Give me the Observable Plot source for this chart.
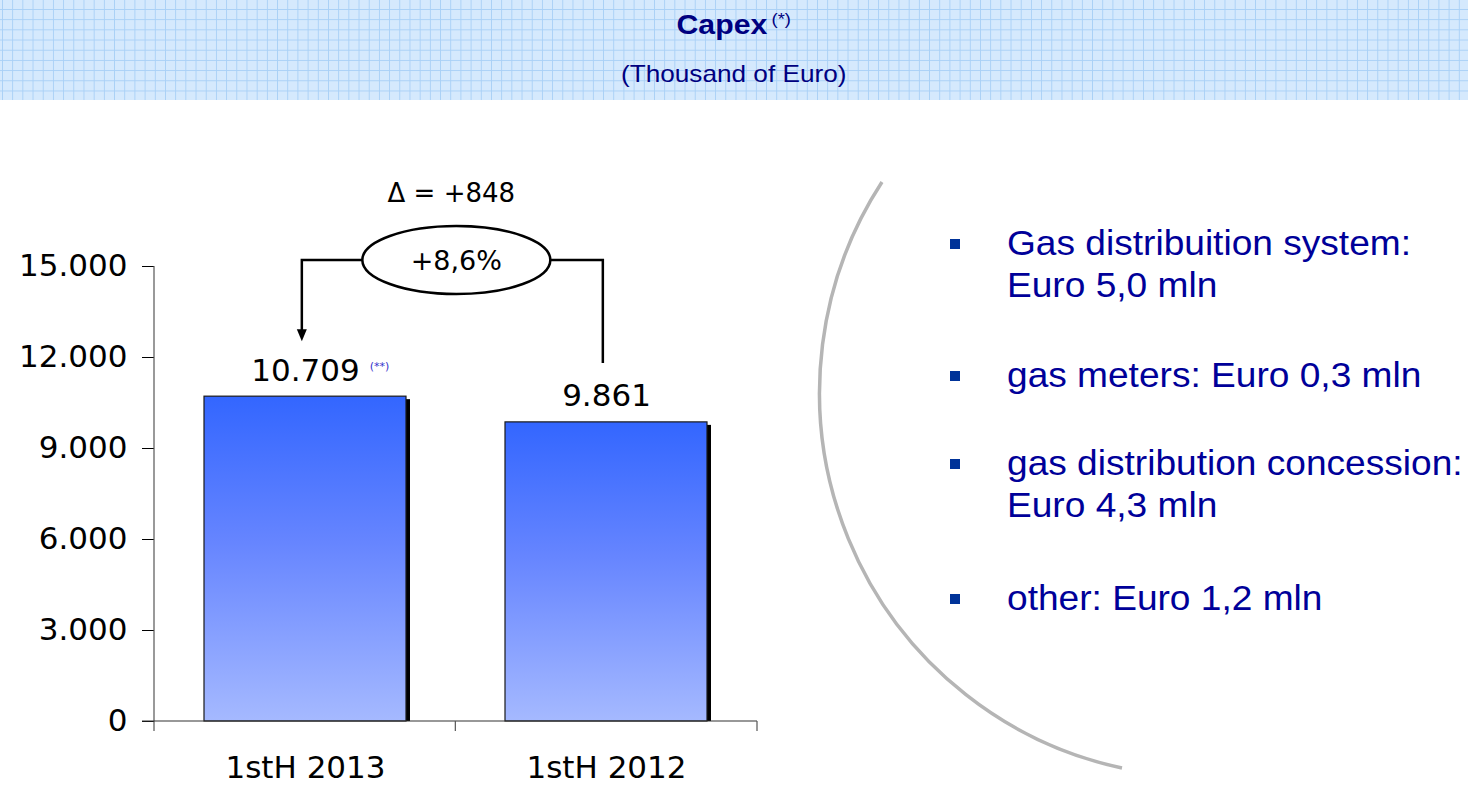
<!DOCTYPE html>
<html>
<head>
<meta charset="utf-8">
<script src="https://cdn.jsdelivr.net/npm/d3@7"></script>
<script src="https://cdn.jsdelivr.net/npm/@observablehq/plot@0.6"></script>
<style>
  html, body { margin: 0; padding: 0; background: #fff; }
  #page { position: relative; width: 1468px; height: 788px; overflow: hidden; background: #fff; }
  #header {
    position: absolute; left: 0; top: 0; width: 1468px; height: 100px;
    background-color: #d5e9fd;
    background-image: linear-gradient(to right, #a9d0f6 1px, transparent 1px),
                      linear-gradient(to bottom, #a9d0f6 1px, transparent 1px);
    background-size: 10.2px 10.2px;
    background-position: 2px 9px;
  }
  .htext { position: absolute; left: 0; width: 1468px; text-align: center; font-family: "Liberation Sans", Arial, sans-serif; color: #000080; white-space: nowrap; }
  #title { top: 9px; font-size: 28px; font-weight: bold; transform: scaleX(1.08); transform-origin: 737px 0; }
  #title sup { font-weight: normal; font-size: 17px; vertical-align: 0; position: relative; top: -9px; margin-left: 4px; }
  #subtitle { top: 60px; font-size: 24px; transform: scaleX(1.09); transform-origin: 737px 0; }
  #chart { position: absolute; left: 0; top: 100px; }
  #arc { position: absolute; left: 0; top: 0; pointer-events: none; }
  .bullet { position: absolute; left: 1007px; font-family: "Liberation Sans", Arial, sans-serif; font-size: 34.5px; line-height: 42px; color: #000099; white-space: nowrap; transform: scaleX(1.075); transform-origin: 0 0; }
  .sq { position: absolute; left: 950px; width: 10px; height: 10px; background: #003399; }
</style>
</head>
<body>
<svg width="0" height="0" style="position:absolute">
  <defs>
    <linearGradient id="barGrad" x1="0" y1="0" x2="0" y2="1">
      <stop offset="0" stop-color="#3366ff"/>
      <stop offset="0.45" stop-color="#6685ff"/>
      <stop offset="1" stop-color="#a5b9ff"/>
    </linearGradient>
  </defs>
</svg>
<div id="page">
  <div id="header">
    <div id="title" class="htext">Capex<sup>(*)</sup></div>
    <div id="subtitle" class="htext">(Thousand of Euro)</div>
  </div>
  <div id="chart"></div>
  <svg id="arc" width="1468" height="788">
    <path d="M 882 182 A 382 384 0 0 0 1122 768" fill="none" stroke="#b5b5b5" stroke-width="3.5"/>
  </svg>
  <div id="bullets"></div>
</div>
<script>
// ---- data ----
const categories = ["1stH 2013", "1stH 2012"];
const values = [10709, 9861];
const valueNotes = ["(**)", ""];
const yTicks = [0, 3000, 6000, 9000, 12000, 15000];
const yTickLabels = ["0", "3.000", "6.000", "9.000", "12.000", "15.000"];
const bulletLines = [
  ["Gas distribuition system:", "Euro 5,0 mln"],
  ["gas meters: Euro 0,3 mln"],
  ["gas distribution concession:", "Euro 4,3 mln"],
  ["other: Euro 1,2 mln"]
];

const fmtThousands = v => d3.format(",")(v).replace(/,/g, ".");
const data = categories.map((c, i) => ({cat: c, value: values[i], label: fmtThousands(values[i]), note: valueNotes[i]}));

const delta = values[0] - values[1];
const pct = delta / values[1] * 100;
const deltaText = "\u0394 = " + (delta >= 0 ? "+" : "") + delta;
const pctText = (pct >= 0 ? "+" : "") + d3.format(".1f")(pct).replace(".", ",") + "%";

const padInner = 0.33, padOuter = 0.165;

function decorations(...args) {
  const dims = args.find(a => a && typeof a === "object" && "marginLeft" in a);
  const scales = args.find(a => a && typeof a === "object" && typeof a.y === "function" && typeof a.x === "function");
  const x = scales.x, y = scales.y;
  const xa = x(categories[0]), xb = x(categories[1]);
  const step = xb - xa;
  const bw = step * (1 - padInner);
  const c0 = xa + bw / 2, c1 = xb + bw / 2;
  const left = dims.marginLeft, right = dims.width - dims.marginRight;
  const bottom = y(0), top = y(yTicks[yTicks.length - 1]);
  const g = d3.create("svg:g");
  // axis lines
  g.append("line").attr("x1", left).attr("x2", left).attr("y1", top).attr("y2", bottom + 10)
    .attr("stroke", "#555").attr("stroke-width", 1.2);
  g.append("line").attr("x1", left - 12).attr("x2", right).attr("y1", bottom).attr("y2", bottom)
    .attr("stroke", "#333").attr("stroke-width", 1.2);
  [(c0 + c1) / 2, right].forEach(px => {
    g.append("line").attr("x1", px).attr("x2", px).attr("y1", bottom).attr("y2", bottom + 10)
      .attr("stroke", "#555").attr("stroke-width", 1.2);
  });
  // annotation
  const cx = (c0 + c1) / 2 + 1, cy = top - 6, rx = 94, ry = 34;
  const ax = c0 - 3, bx = c1 - 3;
  const tipA = y(values[0]) - 55, endB = y(values[1]) - 59;
  g.append("path").attr("d", `M${cx - rx},${cy}H${ax}V${tipA - 11}`)
    .attr("fill", "none").attr("stroke", "#000").attr("stroke-width", 2.5);
  g.append("path").attr("d", `M${ax - 5},${tipA - 12}L${ax + 5},${tipA - 12}L${ax},${tipA}Z`).attr("fill", "#000");
  g.append("path").attr("d", `M${cx + rx},${cy}H${bx}V${endB}`)
    .attr("fill", "none").attr("stroke", "#000").attr("stroke-width", 2.5);
  g.append("ellipse").attr("cx", cx).attr("cy", cy).attr("rx", rx).attr("ry", ry)
    .attr("fill", "#fff").attr("stroke", "#000").attr("stroke-width", 2.5);
  g.append("text").attr("x", cx).attr("y", cy).attr("dy", "0.36em").attr("text-anchor", "middle")
    .attr("font-size", 27).attr("fill", "#000").text(pctText);
  g.append("text").attr("x", cx - 5).attr("y", cy - 67).attr("dy", "0.36em").attr("text-anchor", "middle")
    .attr("font-size", 26).attr("fill", "#000").text(deltaText);
  return g.node();
}

const plot = Plot.plot({
  width: 1468,
  height: 688,
  marginLeft: 154,
  marginRight: 711,
  marginTop: 166,
  marginBottom: 67,
  style: {fontFamily: "'DejaVu Sans', Verdana, sans-serif", fontSize: "31px", color: "#000", background: "transparent", overflow: "visible"},
  x: {domain: categories, paddingInner: padInner, paddingOuter: padOuter, tickSize: 0, tickPadding: 34, label: null},
  y: {domain: [0, 15000], ticks: yTicks, tickFormat: d => yTickLabels[yTicks.indexOf(d)], tickSize: 12, tickPadding: 15, label: null},
  marks: [
    Plot.barY(data, {x: "cat", y: "value", fill: "#000", dx: 4, insetTop: 3}),
    Plot.barY(data, {x: "cat", y: "value", fill: "url(#barGrad)", stroke: "#1a1a1a", strokeWidth: 1.2}),
    decorations,
    Plot.text(data, {x: "cat", y: "value", text: "label", dy: -26, fontSize: 31, fill: "#000"}),
    Plot.text(data, {x: "cat", y: "value", text: "note", dx: 74, dy: -30, fontSize: 11, fill: "#3333cc"})
  ]
});
document.getElementById("chart").appendChild(plot);

// bullets
const bulletTops = [222, 354, 442, 577];
const bulletsEl = document.getElementById("bullets");
bulletLines.forEach((lines, i) => {
  const sq = document.createElement("div");
  sq.className = "sq";
  sq.style.top = (bulletTops[i] + 17) + "px";
  bulletsEl.appendChild(sq);
  const t = document.createElement("div");
  t.className = "bullet";
  t.style.top = bulletTops[i] + "px";
  t.innerHTML = lines.join("<br>");
  bulletsEl.appendChild(t);
});
</script>
</body>
</html>
